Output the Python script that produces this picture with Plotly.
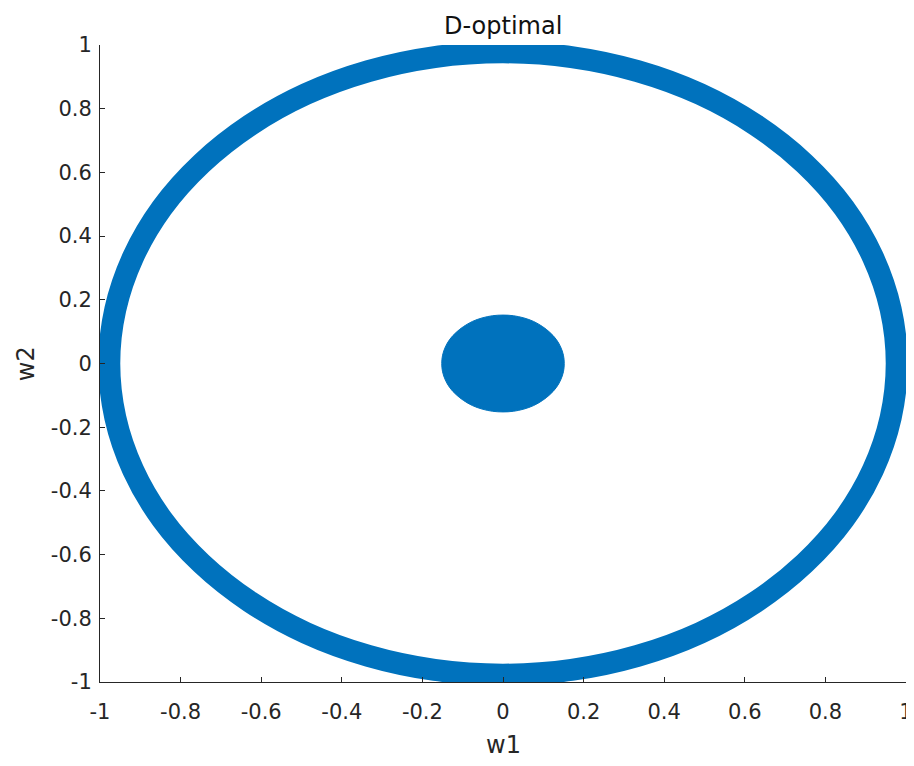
import plotly.graph_objects as go

ring_x = [0.977, 0.962, 0.918, 0.846, 0.748, 0.628, 0.489, 0.334, 0.170, 0.0,
          -0.170, -0.334, -0.489, -0.628, -0.748, -0.846, -0.918, -0.962, -0.977,
          -0.962, -0.918, -0.846, -0.748, -0.628, -0.489, -0.334, -0.170, 0.0,
          0.170, 0.334, 0.489, 0.628, 0.748, 0.846, 0.918, 0.962, 0.977]
ring_y = [0.0, 0.170, 0.334, 0.489, 0.628, 0.748, 0.846, 0.918, 0.962, 0.977,
          0.962, 0.918, 0.846, 0.748, 0.628, 0.489, 0.334, 0.170, 0.0,
          -0.170, -0.334, -0.489, -0.628, -0.748, -0.846, -0.918, -0.962, -0.977,
          -0.962, -0.918, -0.846, -0.748, -0.628, -0.489, -0.334, -0.170, 0.0]

# Central cluster boundary
core_x = [0.152, 0.150, 0.143, 0.132, 0.116, 0.098, 0.076, 0.052, 0.026, 0.0,
          -0.026, -0.052, -0.076, -0.098, -0.116, -0.132, -0.143, -0.150, -0.152,
          -0.150, -0.143, -0.132, -0.116, -0.098, -0.076, -0.052, -0.026, 0.0,
          0.026, 0.052, 0.076, 0.098, 0.116, 0.132, 0.143, 0.150, 0.152]
core_y = [0.0, 0.026, 0.052, 0.076, 0.098, 0.116, 0.132, 0.143, 0.150, 0.152,
          0.150, 0.143, 0.132, 0.116, 0.098, 0.076, 0.052, 0.026, 0.0,
          -0.026, -0.052, -0.076, -0.098, -0.116, -0.132, -0.143, -0.150, -0.152,
          -0.150, -0.143, -0.132, -0.116, -0.098, -0.076, -0.052, -0.026, 0.0]

tick_vals = [-1, -0.8, -0.6, -0.4, -0.2, 0, 0.2, 0.4, 0.6, 0.8, 1]
tick_text = ["-1", "-0.8", "-0.6", "-0.4", "-0.2", "0", "0.2", "0.4", "0.6", "0.8", "1"]

blue = "#0072BD"
txt = "#262626"
font_family = "DejaVu Sans, Arial"

fig = go.Figure()
fig.add_trace(go.Scatter(x=ring_x, y=ring_y, mode="lines",
                         line=dict(color=blue, width=22, shape="spline"),
                         showlegend=False, hoverinfo="skip"))
fig.add_trace(go.Scatter(x=core_x, y=core_y, mode="lines", fill="toself",
                         fillcolor=blue, line=dict(color=blue, width=1, shape="spline"),
                         showlegend=False, hoverinfo="skip"))

axis_common = dict(range=[-1, 1], tickvals=tick_vals, ticktext=tick_text,
                   ticks="inside", ticklen=5, tickcolor=txt,
                   showline=True, linecolor=txt, linewidth=1,
                   showgrid=False, zeroline=False, mirror=False, automargin=False,
                   tickfont=dict(family=font_family, size=21, color=txt))

# page body adds an 8px offset, so the figure is 8px smaller on each axis
fig.update_layout(
    width=906, height=758,
    margin=dict(l=92, r=8, t=37, b=84),
    paper_bgcolor="white", plot_bgcolor="white",
    xaxis=dict(ticklabelstandoff=11, **axis_common),
    yaxis=dict(ticklabelstandoff=3, **axis_common),
    annotations=[
        dict(text="D-optimal", xref="paper", yref="paper", x=0.5, y=1.055,
             xanchor="center", yanchor="top", showarrow=False,
             font=dict(family=font_family, size=24, color="#111111")),
        dict(text="w1", xref="paper", yref="paper", x=0.5, y=-0.0989,
             xanchor="center", yanchor="middle", showarrow=False,
             font=dict(family=font_family, size=24, color=txt)),
        dict(text="w2", xref="paper", yref="paper", x=-0.112, y=0.5,
             xanchor="left", yanchor="middle", showarrow=False, textangle=-90,
             font=dict(family=font_family, size=24, color=txt)),
    ],
)

fig.write_html("out.html")
